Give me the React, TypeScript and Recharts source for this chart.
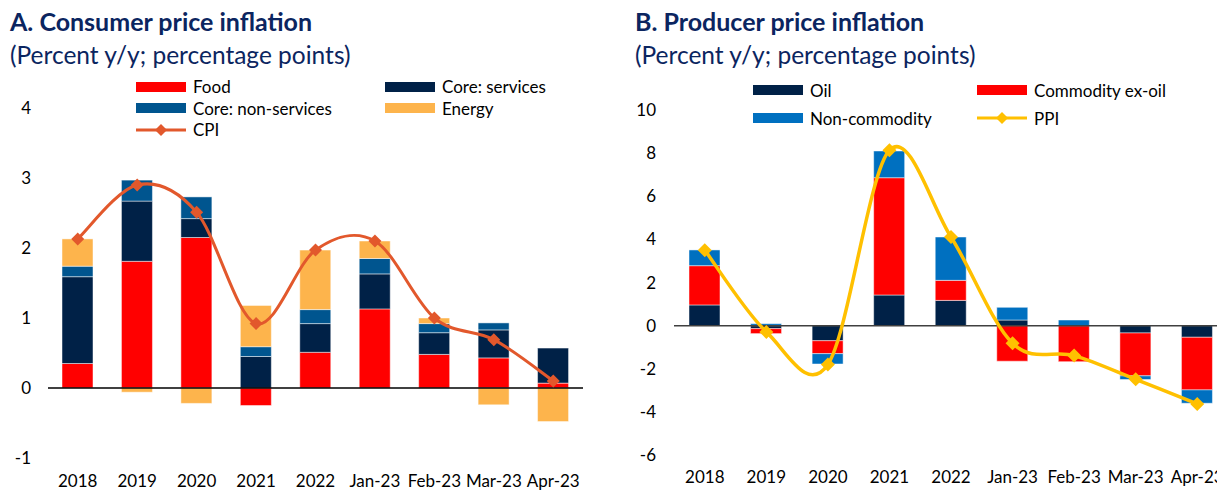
import React from 'react';
import { ComposedChart, Bar, Line, XAxis, YAxis, ReferenceLine, Legend } from 'recharts';

const categories = ['2018', '2019', '2020', '2021', '2022', 'Jan-23', 'Feb-23', 'Mar-23', 'Apr-23'];

// Panel A: consumer prices
const cpiFood = [0.35, 1.81, 2.15, -0.25, 0.51, 1.13, 0.48, 0.43, 0.07];
const cpiCoreServices = [1.24, 0.86, 0.27, 0.45, 0.41, 0.5, 0.31, 0.4, 0.5];
const cpiCoreNonServices = [0.15, 0.3, 0.31, 0.14, 0.2, 0.22, 0.13, 0.1, 0.0];
const cpiEnergy = [0.39, -0.06, -0.22, 0.59, 0.85, 0.25, 0.08, -0.24, -0.48];
const cpiTotal = [2.13, 2.9, 2.51, 0.92, 1.97, 2.1, 1.0, 0.69, 0.1];
const cpiTicks = [-1, 0, 1, 2, 3, 4];

// Panel B: producer prices
const ppiOil = [0.96, -0.14, -0.7, 1.42, 1.17, 0.26, 0, -0.34, -0.54];
const ppiCommodity = [1.82, -0.23, -0.6, 5.44, 0.93, -1.65, -1.67, -1.99, -2.44];
const ppiNonCommodity = [0.73, 0.09, -0.48, 1.24, 2.01, 0.59, 0.26, -0.17, -0.62];
const ppiTotal = [3.5, -0.29, -1.8, 8.13, 4.11, -0.82, -1.39, -2.49, -3.63];
const ppiTicks = [-6, -4, -2, 0, 2, 4, 6, 8, 10];

const cpiData = categories.map((c, i) => ({
  name: c,
  food: cpiFood[i],
  services: cpiCoreServices[i],
  nonServices: cpiCoreNonServices[i],
  energy: cpiEnergy[i],
  cpi: cpiTotal[i],
}));

const ppiData = categories.map((c, i) => ({
  name: c,
  oil: ppiOil[i],
  commodity: ppiCommodity[i],
  nonCommodity: ppiNonCommodity[i],
  ppi: ppiTotal[i],
}));

const FONT = 'Lato, "Open Sans", sans-serif';
const NAVY = '#0b2560';

// Excel-style smoothed line (Catmull-Rom through the points)
const excelSmooth = (context: any) => {
  let pts: [number, number][] = [];
  return {
    areaStart() {},
    areaEnd() {},
    lineStart() {
      pts = [];
    },
    lineEnd() {
      const n = pts.length;
      if (!n) return;
      context.moveTo(pts[0][0], pts[0][1]);
      for (let i = 0; i < n - 1; i++) {
        const p0 = pts[i - 1] || pts[i];
        const p1 = pts[i];
        const p2 = pts[i + 1];
        const p3 = pts[i + 2] || p2;
        context.bezierCurveTo(
          p1[0] + (p2[0] - p0[0]) / 6,
          p1[1] + (p2[1] - p0[1]) / 6,
          p2[0] - (p3[0] - p1[0]) / 6,
          p2[1] - (p3[1] - p1[1]) / 6,
          p2[0],
          p2[1]
        );
      }
    },
    point(x: number, y: number) {
      pts.push([x, y]);
    },
  };
};

const diamond = (color: string, r: number) => (props: any) => {
  const { cx, cy, index } = props;
  if (cx == null || cy == null) return <g key={`d-${index}`} />;
  return (
    <polygon
      key={`d-${index}`}
      points={`${cx},${cy - r} ${cx + r},${cy} ${cx},${cy + r} ${cx - r},${cy}`}
      fill={color}
    />
  );
};

type LegendItem = { label: string; color: string; line?: boolean };

const LegendGrid = ({ items, colWidth, rowHeight, fontSize }: { items: LegendItem[]; colWidth: number; rowHeight: number; fontSize: number }) => (
  <div style={{ display: 'grid', gridTemplateColumns: `${colWidth}px ${colWidth}px`, fontFamily: FONT, fontSize, color: '#000' }}>
    {items.map((it) => (
      <div key={it.label} style={{ display: 'flex', alignItems: 'center', height: rowHeight, whiteSpace: 'nowrap' }}>
        <svg width={52} height={14} style={{ marginRight: 6 }}>
          {it.line ? (
            <>
              <line x1={1} y1={7} x2={51} y2={7} stroke={it.color} strokeWidth={3} />
              <polygon points="26,1 32,7 26,13 20,7" fill={it.color} />
            </>
          ) : (
            <rect x={1} y={2} width={50} height={10} fill={it.color} />
          )}
        </svg>
        <span>{it.label}</span>
      </div>
    ))}
  </div>
);

const cpiLegend: LegendItem[] = [
  { label: 'Food', color: '#ff0000' },
  { label: 'Core: services', color: '#002147' },
  { label: 'Core: non-services', color: '#00558f' },
  { label: 'Energy', color: '#fdb44c' },
  { label: 'CPI', color: '#e2582c', line: true },
];

const ppiLegend: LegendItem[] = [
  { label: 'Oil', color: '#002147' },
  { label: 'Commodity ex-oil', color: '#ff0000' },
  { label: 'Non-commodity', color: '#0070c0' },
  { label: 'PPI', color: '#ffc000', line: true },
];

const tickStyle = { fontFamily: FONT, fontSize: 17, fill: '#000' };
const barStroke = { stroke: '#ffffff', strokeOpacity: 0.6, strokeWidth: 0.8 };

const Title = ({ left, title }: { left: number; title: string }) => (
  <div style={{ position: 'absolute', left, top: 5, fontFamily: FONT, color: NAVY, lineHeight: '33px' }}>
    <div style={{ fontSize: 25, fontWeight: 700 }}>{title}</div>
    <div style={{ fontSize: 24.5 }}>(Percent y/y; percentage points)</div>
  </div>
);

export default function App() {
  return (
    <div style={{ position: 'absolute', left: 0, top: 0, width: 1217, height: 491, overflow: 'hidden', background: '#fff' }}>
      <Title left={10} title="A. Consumer price inflation" />
      <Title left={635} title="B. Producer price inflation" />

      <div style={{ position: 'absolute', left: 0, top: 0 }}>
        <ComposedChart width={600} height={491} data={cpiData} stackOffset="sign" margin={{ top: 108, right: 17, bottom: 0, left: 0 }}>
          <XAxis dataKey="name" axisLine={false} tickLine={false} tickSize={0} tickMargin={17} height={33} tick={tickStyle} interval={0} />
          <YAxis domain={[-1, 4]} ticks={cpiTicks} axisLine={false} tickLine={false} tickSize={0} tickMargin={17} width={48} tick={tickStyle} />
          <Legend
            layout="vertical"
            align="center"
            verticalAlign="middle"
            wrapperStyle={{ position: 'absolute', left: 135, top: 76, width: 500 }}
            content={() => <LegendGrid items={cpiLegend} colWidth={249} rowHeight={21.5} fontSize={17} />}
          />
          <Bar dataKey="food" stackId="a" fill="#ff0000" barSize={31} isAnimationActive={false} {...barStroke} />
          <Bar dataKey="services" stackId="a" fill="#002147" barSize={31} isAnimationActive={false} {...barStroke} />
          <Bar dataKey="nonServices" stackId="a" fill="#00558f" barSize={31} isAnimationActive={false} {...barStroke} />
          <Bar dataKey="energy" stackId="a" fill="#fdb44c" barSize={31} isAnimationActive={false} {...barStroke} />
          <ReferenceLine y={0} stroke="#000" strokeWidth={1.5} />
          <Line dataKey="cpi" type={excelSmooth as any} stroke="#e2582c" strokeWidth={3} dot={diamond('#e2582c', 6.5)} activeDot={false} isAnimationActive={false} />
        </ComposedChart>
      </div>

      <div style={{ position: 'absolute', left: 610, top: 0 }}>
        <ComposedChart width={630} height={491} data={ppiData} stackOffset="sign" margin={{ top: 110, right: 12, bottom: 0, left: 0 }}>
          <XAxis dataKey="name" axisLine={false} tickLine={false} tickSize={0} tickMargin={16} height={36} tick={tickStyle} interval={0} />
          <YAxis domain={[-6, 10]} ticks={ppiTicks} axisLine={false} tickLine={false} tickSize={0} tickMargin={18} width={64} tick={tickStyle} />
          <Legend
            layout="vertical"
            align="center"
            verticalAlign="middle"
            wrapperStyle={{ position: 'absolute', left: 142, top: 76, width: 500 }}
            content={() => <LegendGrid items={ppiLegend} colWidth={224} rowHeight={28} fontSize={17} />}
          />
          <Bar dataKey="oil" stackId="b" fill="#002147" barSize={31} isAnimationActive={false} {...barStroke} />
          <Bar dataKey="commodity" stackId="b" fill="#ff0000" barSize={31} isAnimationActive={false} {...barStroke} />
          <Bar dataKey="nonCommodity" stackId="b" fill="#0070c0" barSize={31} isAnimationActive={false} {...barStroke} />
          <ReferenceLine y={0} stroke="#404040" strokeWidth={1.5} />
          <Line dataKey="ppi" type={excelSmooth as any} stroke="#ffc000" strokeWidth={3.5} dot={diamond('#ffc000', 7)} activeDot={false} isAnimationActive={false} />
        </ComposedChart>
      </div>
    </div>
  );
}
